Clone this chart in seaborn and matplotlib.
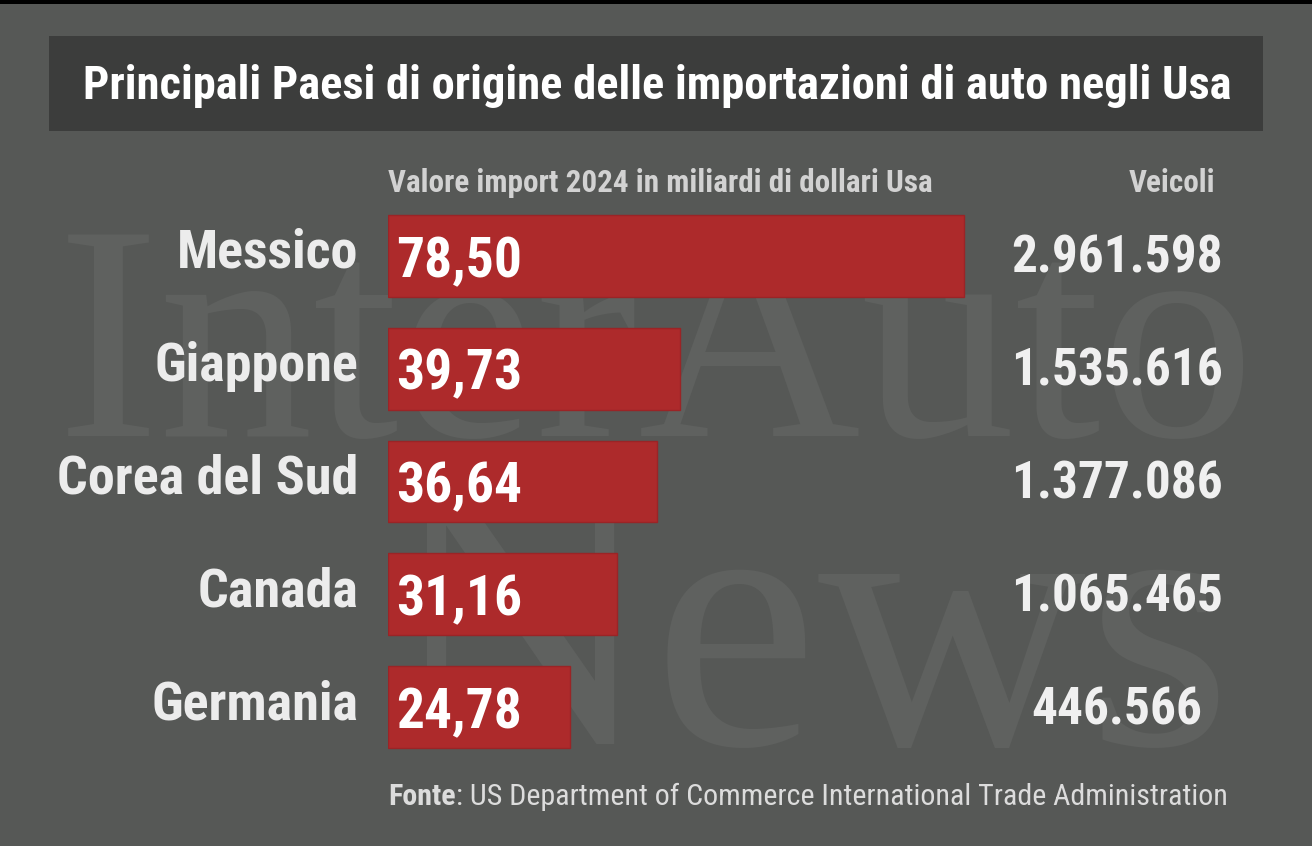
import matplotlib
matplotlib.use("Agg")
import matplotlib.pyplot as plt
import matplotlib.transforms as mtransforms
from matplotlib.patches import Rectangle
import seaborn as sns
import pandas as pd

# ---- data ----
countries = ["Messico", "Giappone", "Corea del Sud", "Canada", "Germania"]
import_values = [78.50, 39.73, 36.64, 31.16, 24.78]
value_labels = ["78,50", "39,73", "36,64", "31,16", "24,78"]
vehicles = ["2.961.598", "1.535.616", "1.377.086", "1.065.465", "446.566"]
title = "Principali Paesi di origine delle importazioni di auto negli Usa"
subtitle = "Valore import 2024 in miliardi di dollari Usa"
vehicles_header = "Veicoli"
source_bold = "Fonte"
source_text = ": US Department of Commerce International Trade Administration"
watermark_lines = ["InterAuto", "News"]

W, H = 1312, 846
BG = "#565856"
BOX = "#3c3d3c"
BAR = "#ad2a2b"

sns.set_theme(style="white")
COND = ["Roboto Condensed", "Archivo Narrow", "DejaVu Sans"]
plt.rcParams["font.family"] = COND

fig = plt.figure(figsize=(W / 100, H / 100), dpi=100)
fig.patch.set_facecolor(BG)

def fx(px):
    return px / W

def fy(py):
    return 1 - py / H

# top black border
fig.patches.append(Rectangle((0, fy(4)), 1, 4 / H, transform=fig.transFigure,
                             facecolor="black", edgecolor="none", zorder=-5))

# watermark (faint serif text)
wm_color = "#5f615f"
fig.text(fx(656), fy(436), watermark_lines[0], color=wm_color, fontsize=222,
         family=["Liberation Serif", "DejaVu Serif"], ha="center",
         va="baseline", zorder=-4)
fig.text(fx(808), fy(744), watermark_lines[1], color=wm_color, fontsize=268,
         family=["Liberation Serif", "DejaVu Serif"], ha="center",
         va="baseline", zorder=-4)

# title box
fig.patches.append(Rectangle((fx(49), fy(131)), fx(1263) - fx(49), 95 / H,
                             transform=fig.transFigure, facecolor=BOX,
                             edgecolor="none", zorder=-3))
fig.text(fx(657), fy(99), title, color="white", fontsize=33.5, fontweight="bold",
         ha="center", va="baseline", zorder=2)

# subheaders
fig.text(fx(388), fy(192), subtitle, color="#d2d2d2", fontsize=22.4,
         fontweight="bold", ha="left", va="baseline")
fig.text(fx(1215), fy(192), vehicles_header, color="#d2d2d2", fontsize=22.4,
         fontweight="bold", ha="right", va="baseline")

# bar axes
px_per_unit = 7.34
ax_left, ax_right = 388, 1300
ax_top, ax_bot = 199.6, 763.4
ax = fig.add_axes([fx(ax_left), fy(ax_bot), (ax_right - ax_left) / W,
                   (ax_bot - ax_top) / H])
ax.set_facecolor("none")
df = pd.DataFrame({"country": countries, "value": import_values})
sns.barplot(data=df, x="value", y="country", orient="h", color=BAR,
            width=0.727, saturation=1, edgecolor="#9a2426", linewidth=1, ax=ax)
ax.set_xlim(0, (ax_right - ax_left) / px_per_unit)
ax.set_ylim(4.5, -0.5)
ax.axis("off")

unit_px = (ax_bot - ax_top) / 5.0
label_tr = mtransforms.blended_transform_factory(fig.transFigure, ax.transData)
for i, (c, vl, vh) in enumerate(zip(countries, value_labels, vehicles)):
    ax.text(fx(396), i + 21 / unit_px, vl, transform=label_tr, color="white",
            fontsize=40, fontweight="bold", ha="left", va="baseline")
    ax.text(fx(358), i + 12 / unit_px, c, transform=label_tr, color="#ececec",
            fontsize=39, fontweight="bold", ha="right", va="baseline")
    ax.text(fx(1117), i + 17 / unit_px, vh, transform=label_tr, color="#f0f0f0",
            fontsize=37, fontweight="bold", ha="center", va="baseline")

# source
t1 = fig.text(fx(388), fy(805), source_bold, color="#dcdcdc", fontsize=21.6,
              fontweight="bold", ha="left", va="baseline")
fig.canvas.draw()
bb = t1.get_window_extent()
fig.text(bb.x1 / W, fy(805), source_text, color="#dcdcdc", fontsize=21.6,
         fontweight="normal", ha="left", va="baseline")

fig.savefig("out.png", dpi=100, facecolor=BG)
